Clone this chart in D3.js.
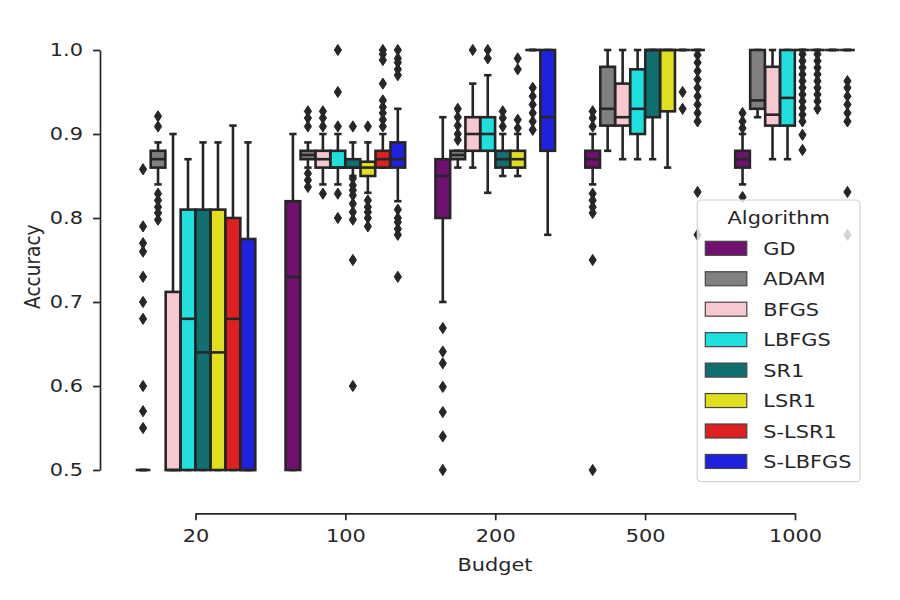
<!DOCTYPE html>
<html>
<head>
<meta charset="utf-8">
<script src="https://cdn.jsdelivr.net/npm/d3@7"></script>
<style>
  body { margin: 0; background: #fff; }
  text { font-family: "DejaVu Sans", sans-serif; }
</style>
</head>
<body>
<div id="chart"></div>
<script>
//categories and hue levels
var budgets = ['20', '100', '200', '500', '1000'];
var algorithms = ['GD', 'ADAM', 'BFGS', 'LBFGS', 'SR1', 'LSR1', 'S-LSR1', 'S-LBFGS'];
var colors = ['#701070', '#808080', '#f7c8d0', '#20dfdf', '#107070', '#dfdf20', '#df2020', '#2020df'];
var yTicks = [0.5, 0.6, 0.7, 0.8, 0.9, 1.0];

//box stats for each budget: [whisker low, q1, median, q3, whisker high]
var statsGD = [[0.5, 0.5, 0.5, 0.5, 0.5], [0.5, 0.5, 0.73, 0.82, 0.90], [0.70, 0.80, 0.85, 0.87, 0.92], [0.84, 0.86, 0.87, 0.88, 0.90], [0.84, 0.86, 0.87, 0.88, 0.90]];
var statsADAM = [[0.84, 0.86, 0.87, 0.88, 0.89], [0.86, 0.87, 0.875, 0.88, 0.89], [0.86, 0.87, 0.875, 0.88, 0.88], [0.88, 0.91, 0.93, 0.98, 1.0], [0.92, 0.93, 0.94, 1.0, 1.0]];
var statsBFGS = [[0.5, 0.5, 0.5, 0.712, 0.90], [0.84, 0.86, 0.87, 0.88, 0.90], [0.86, 0.88, 0.90, 0.92, 0.96], [0.87, 0.91, 0.92, 0.96, 1.0], [0.87, 0.91, 0.923, 0.98, 1.0]];
var statsLBFGS = [[0.5, 0.5, 0.68, 0.81, 0.87], [0.84, 0.86, 0.86, 0.88, 0.90], [0.83, 0.88, 0.90, 0.92, 0.97], [0.87, 0.90, 0.93, 0.977, 1.0], [0.87, 0.91, 0.943, 1.0, 1.0]];
var statsSR1 = [[0.5, 0.5, 0.64, 0.81, 0.89], [0.85, 0.86, 0.86, 0.87, 0.89], [0.85, 0.86, 0.87, 0.88, 0.90], [0.87, 0.92, 1.0, 1.0, 1.0], [1.0, 1.0, 1.0, 1.0, 1.0]];
var statsLSR1 = [[0.5, 0.5, 0.64, 0.81, 0.89], [0.83, 0.85, 0.86, 0.867, 0.89], [0.85, 0.86, 0.87, 0.88, 0.90], [0.86, 0.927, 1.0, 1.0, 1.0], [1.0, 1.0, 1.0, 1.0, 1.0]];
var statsSLSR1 = [[0.5, 0.5, 0.68, 0.80, 0.91], [0.86, 0.86, 0.87, 0.88, 0.90], [1.0, 1.0, 1.0, 1.0, 1.0], [1.0, 1.0, 1.0, 1.0, 1.0], [1.0, 1.0, 1.0, 1.0, 1.0]];
var statsSLBFGS = [[0.5, 0.5, 0.5, 0.775, 0.89], [0.82, 0.86, 0.87, 0.89, 0.93], [0.78, 0.88, 0.92, 1.0, 1.0], [1.0, 1.0, 1.0, 1.0, 1.0], [1.0, 1.0, 1.0, 1.0, 1.0]];

//outliers for each budget
var fliersGD = [[0.858, 0.79, 0.77, 0.76, 0.73, 0.70, 0.68, 0.60, 0.57, 0.55], [], [0.669, 0.641, 0.627, 0.599, 0.569, 0.54, 0.5], [0.927, 0.919, 0.909, 0.829, 0.821, 0.813, 0.806, 0.75, 0.5], [0.925, 0.915, 0.907, 0.825]];
var fliersADAM = [[0.921, 0.909, 0.829, 0.821, 0.813, 0.806, 0.798], [0.927, 0.919, 0.909, 0.853, 0.845, 0.837], [0.93, 0.92, 0.91, 0.90, 0.893], [], []];
var fliersBFGS = [[], [0.927, 0.919, 0.909, 0.829], [1.0], [], []];
var fliersLBFGS = [[], [1.0, 0.95, 0.909, 0.829, 0.80], [1.0, 0.99], [], []];
var fliersSR1 = [[], [0.909, 0.847, 0.839, 0.833, 0.827, 0.817, 0.807, 0.798, 0.75, 0.60], [0.927, 0.919, 0.909], [], [0.995, 0.987, 0.979, 0.971, 0.963, 0.955, 0.947, 0.939, 0.931, 0.923, 0.915, 0.899, 0.881]];
var fliersLSR1 = [[], [0.909, 0.821, 0.813, 0.807, 0.80, 0.79], [0.99, 0.977, 0.917, 0.907], [], [0.995, 0.987, 0.979, 0.971, 0.963, 0.955, 0.947, 0.939, 0.93]];
var fliersSLSR1 = [[], [1.0, 0.995, 0.988, 0.96, 0.94, 0.932, 0.925, 0.917, 0.909], [0.955, 0.945, 0.935, 0.925, 0.915, 0.905], [0.95, 0.93], []];
var fliersSLBFGS = [[], [1.0, 0.99, 0.985, 0.977, 0.97, 0.81, 0.80, 0.795, 0.787, 0.78, 0.73], [], [0.994, 0.985, 0.975, 0.965, 0.955, 0.945, 0.935, 0.925, 0.915, 0.831, 0.78], [0.963, 0.955, 0.945, 0.935, 0.925, 0.915, 0.831, 0.78]];

var stats = [statsGD, statsADAM, statsBFGS, statsLBFGS, statsSR1, statsLSR1, statsSLSR1, statsSLBFGS];
var fliers = [fliersGD, fliersADAM, fliersBFGS, fliersLBFGS, fliersSR1, fliersLSR1, fliersSLSR1, fliersSLBFGS];

var width = 900;
var height = 600;
var lineColor = '#262626';
var fontSize = 18.5;
var stretch = 1.13; // text looks a bit wider than tall in the reference

var svg = d3.select('#chart').append('svg')
  .attr('width', width)
  .attr('height', height);

//scales
var x0 = d3.scalePoint().domain(budgets).range([195.5, 795]);
var step = x0.step();
var x1 = d3.scaleBand().domain(algorithms).range([-0.4 * step, 0.4 * step]);
var y = d3.scaleLinear().domain([0.5, 1.0]).range([470, 50]);

//axes
var yAxisG = svg.append('g')
  .attr('transform', 'translate(100,0)')
  .call(d3.axisLeft(y).tickValues(yTicks).tickFormat(d3.format('.1f')).tickSize(7).tickSizeOuter(0).tickPadding(10));
var xAxisG = svg.append('g')
  .attr('transform', 'translate(0,513.3)')
  .call(d3.axisBottom(x0).tickSize(7).tickSizeOuter(0).tickPadding(9));

[yAxisG, xAxisG].forEach(function(g) {
  g.attr('font-size', fontSize).attr('font-family', '"DejaVu Sans", sans-serif').attr('color', lineColor);
  g.selectAll('path, line').attr('stroke-width', 1.7);
});
yAxisG.selectAll('text').each(function() {
  var t = d3.select(this);
  t.attr('x', +t.attr('x') / stretch).attr('transform', 'scale(' + stretch + ',1)');
});
xAxisG.selectAll('text').attr('transform', 'scale(' + stretch + ',1)');

//axis labels
svg.append('text')
  .attr('transform', 'translate(495,571) scale(' + stretch + ',1)')
  .attr('text-anchor', 'middle')
  .attr('font-size', fontSize)
  .attr('fill', lineColor)
  .text('Budget');
svg.append('text')
  .attr('transform', 'translate(40,266.7) scale(' + stretch + ',1) rotate(-90)')
  .attr('text-anchor', 'middle')
  .attr('font-size', fontSize)
  .attr('fill', lineColor)
  .text('Accuracy');

//boxes
var bw = x1.bandwidth() * 0.98;
var diamond = 'M0,-5.6L3.6,0L0,5.6L-3.6,0Z';
var plot = svg.append('g');

budgets.forEach(function(b, i) {
  algorithms.forEach(function(a, j) {
    var s = stats[j][i];
    var cx = x0(b) + x1(a) + x1.bandwidth() / 2;
    var g = plot.append('g').attr('stroke', lineColor).attr('stroke-width', 2.6);

    //whiskers and caps
    g.append('line').attr('x1', cx).attr('x2', cx).attr('y1', y(s[0])).attr('y2', y(s[1]));
    g.append('line').attr('x1', cx).attr('x2', cx).attr('y1', y(s[3])).attr('y2', y(s[4]));
    [s[0], s[4]].forEach(function(v) {
      g.append('line')
        .attr('x1', cx - bw / 4).attr('x2', cx + bw / 4)
        .attr('y1', y(v)).attr('y2', y(v));
    });

    //box
    g.append('rect')
      .attr('x', cx - bw / 2)
      .attr('width', bw)
      .attr('y', y(s[3]))
      .attr('height', y(s[1]) - y(s[3]))
      .attr('fill', colors[j]);

    //median
    g.append('line')
      .attr('x1', cx - bw / 2).attr('x2', cx + bw / 2)
      .attr('y1', y(s[2])).attr('y2', y(s[2]));

    //fliers
    g.selectAll('.flier')
      .data(fliers[j][i])
      .enter().append('path')
      .attr('class', 'flier')
      .attr('d', diamond)
      .attr('transform', function(d) {
        return 'translate(' + cx + ',' + y(d) + ')';
      })
      .attr('fill', lineColor)
      .attr('stroke-width', 1);
  });
});

//legend
var legend = svg.append('g').attr('transform', 'translate(697.3,200)');
legend.append('rect')
  .attr('width', 162.7)
  .attr('height', 281.7)
  .attr('rx', 4)
  .attr('fill', '#fff')
  .attr('fill-opacity', 0.8)
  .attr('stroke', '#d0d0d0')
  .attr('stroke-width', 1.2);
legend.append('text')
  .attr('transform', 'translate(81.4,23.5) scale(' + stretch + ',1)')
  .attr('text-anchor', 'middle')
  .attr('font-size', fontSize)
  .attr('fill', lineColor)
  .text('Algorithm');

var items = legend.selectAll('.item')
  .data(algorithms)
  .enter().append('g')
  .attr('class', 'item')
  .attr('transform', function(d, i) {
    return 'translate(0,' + (48.3 + i * 30.45) + ')';
  });
items.append('rect')
  .attr('x', 8)
  .attr('y', -7)
  .attr('width', 41.5)
  .attr('height', 14)
  .attr('fill', function(d, i) {
    return colors[i];
  })
  .attr('stroke', '#444')
  .attr('stroke-width', 1.2);
items.append('text')
  .attr('transform', 'translate(66,6.6) scale(' + stretch + ',1)')
  .attr('font-size', fontSize)
  .attr('fill', lineColor)
  .text(function(d) {
    return d;
  });
</script>
</body>
</html>
